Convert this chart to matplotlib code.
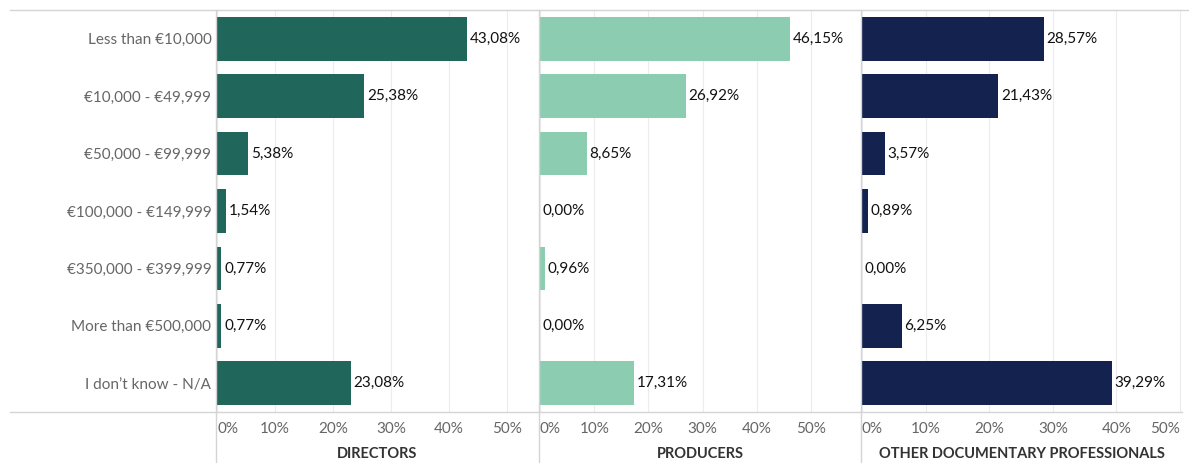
import matplotlib.pyplot as plt
from matplotlib.lines import Line2D

plt.rcParams['font.family'] = ['Lato', 'DejaVu Sans']

categories = ['Less than €10,000', '€10,000 - €49,999', '€50,000 - €99,999',
              '€100,000 - €149,999', '€350,000 - €399,999', 'More than €500,000',
              'I don’t know - N/A']
directors = [43.08, 25.38, 5.38, 1.54, 0.77, 0.77, 23.08]
producers = [46.15, 26.92, 8.65, 0.00, 0.96, 0.00, 17.31]
others = [28.57, 21.43, 3.57, 0.89, 0.00, 6.25, 39.29]
tick_vals = [0, 10, 20, 30, 40, 50]

panels = [
    ('DIRECTORS', directors, '#20665a', 217, 321, 55.3),
    ('PRODUCERS', producers, '#8ccdb1', 540, 321, 59.2),
    ('OTHER DOCUMENTARY PROFESSIONALS', others, '#13224f', 862, 320, 50.3),
]

W, H = 1189, 463
fig = plt.figure(figsize=(W / 100, H / 100), dpi=100)

top_px, bot_px = 10, 412
ypos = list(range(len(categories)))

for i, (title, vals, color, x0, w, xmax) in enumerate(panels):
    ax = fig.add_axes([x0 / W, 1 - bot_px / H, w / W, (bot_px - top_px) / H])
    ax.barh(ypos, vals, height=0.76, color=color, zorder=2)
    for y, v in zip(ypos, vals):
        ax.annotate(f'{v:.2f}%'.replace('.', ','), (v, y), xytext=(2, 0),
                    textcoords='offset points', va='center', ha='left',
                    fontsize=11, color='#111111', annotation_clip=False)
    ax.set_xlim(0, xmax)
    ax.set_ylim(len(categories) - 0.5, -0.5)
    for t in tick_vals:
        ax.axvline(t, color='#ececec', lw=0.8, zorder=0)
    ax.set_xticks(tick_vals)
    ax.set_xticklabels([f'{t}%' for t in tick_vals], fontsize=11, color='#666666')
    ax.tick_params(axis='x', length=0, pad=7)
    labels = ax.get_xticklabels()
    labels[0].set_horizontalalignment('left')
    if xmax < 51:
        labels[-1].set_horizontalalignment('right')
    ax.set_xlabel(title, fontsize=10.5, fontweight='bold', color='#333333', labelpad=8)
    if i == 0:
        ax.set_yticks(ypos)
        ax.set_yticklabels(categories, fontsize=11, color='#666666')
        ax.tick_params(axis='y', length=0, pad=4)
    else:
        ax.set_yticks([])
    for s in ax.spines.values():
        s.set_visible(False)

# frame lines
line_kw = dict(color='#d4d4d4', lw=1.0)
fig.add_artist(Line2D([10 / W, 1], [1 - top_px / H] * 2, **line_kw))
fig.add_artist(Line2D([10 / W, 1182 / W], [1 - bot_px / H] * 2, **line_kw))
for xv in (216, 539, 861):
    fig.add_artist(Line2D([xv / W] * 2, [0, 1 - top_px / H], **line_kw))

fig.savefig('out.png', dpi=100)
